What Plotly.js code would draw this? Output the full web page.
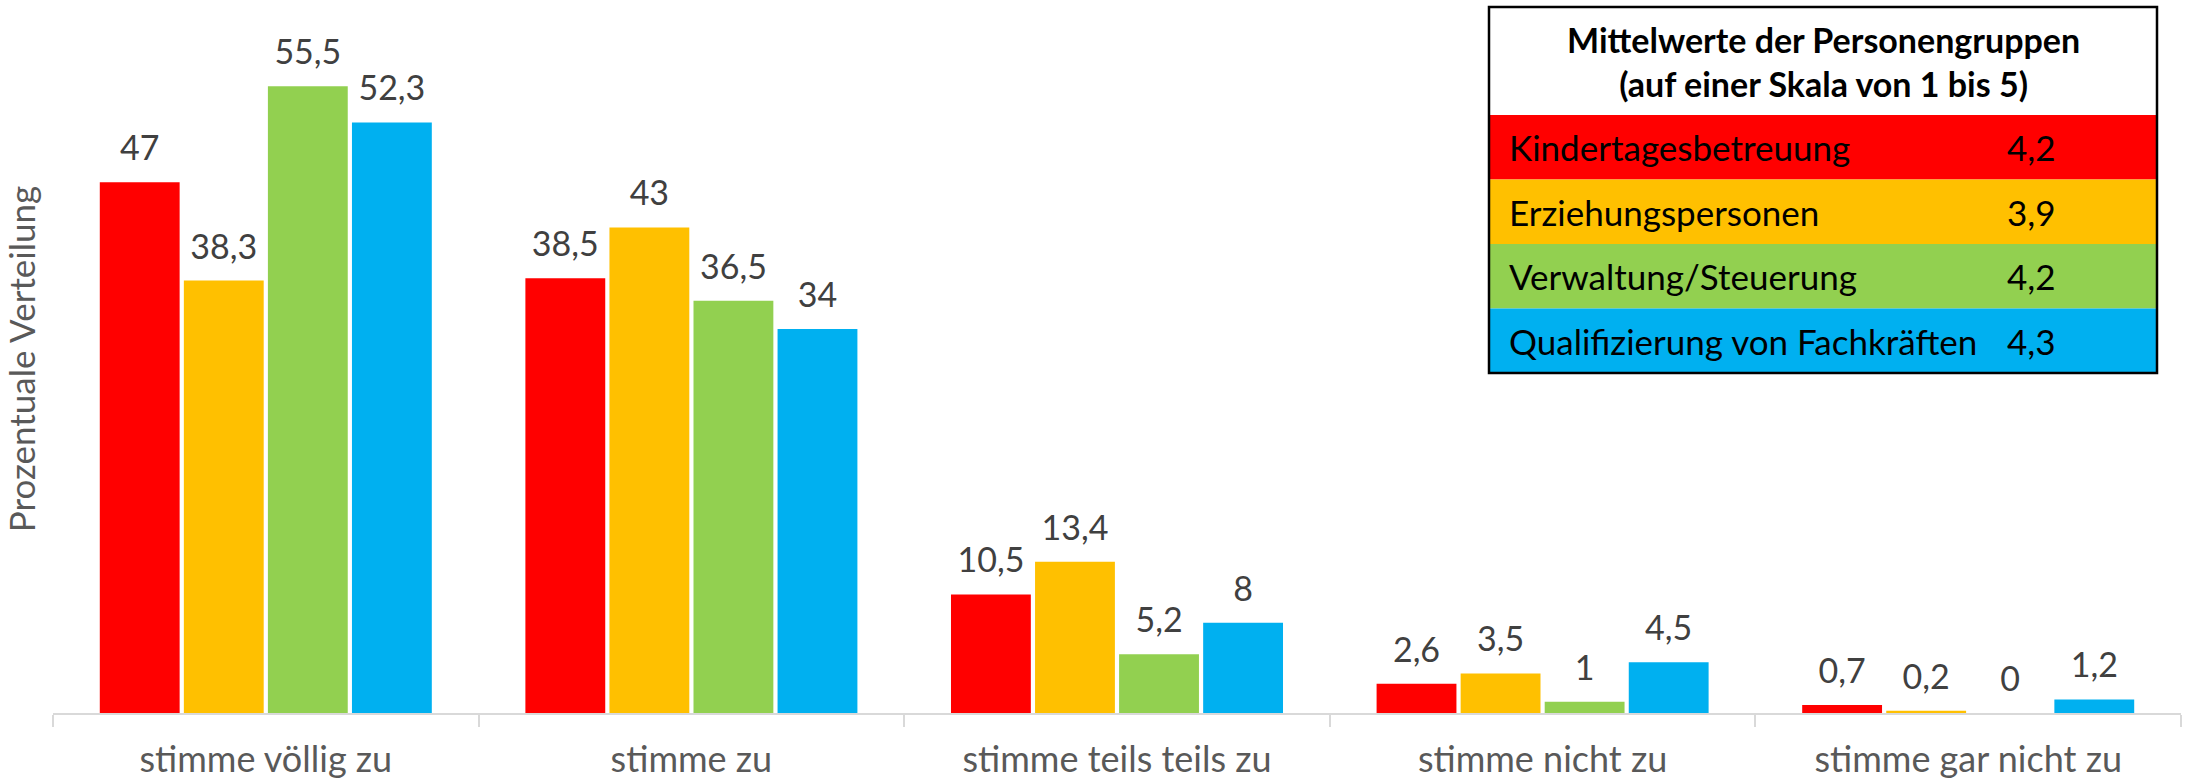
<!DOCTYPE html>
<html>
<head>
<meta charset="utf-8">
<script src="https://cdn.plot.ly/plotly-3.0.1.min.js"></script>
<style>html,body{margin:0;padding:0;background:#fff;}#chart{width:2196px;height:779px;}</style>
</head>
<body>
<div id="chart"></div>
<script>
// ---- data ----
const categories = ['stimme völlig zu', 'stimme zu', 'stimme teils teils zu', 'stimme nicht zu', 'stimme gar nicht zu'];
const groupNames = ['Kindertagesbetreuung', 'Erziehungspersonen', 'Verwaltung/Steuerung', 'Qualifizierung von Fachkräften'];
const kindertagesbetreuung = [47, 38.5, 10.5, 2.6, 0.7];
const erziehungspersonen = [38.3, 43, 13.4, 3.5, 0.2];
const verwaltungSteuerung = [55.5, 36.5, 5.2, 1, 0];
const qualifizierung = [52.3, 34, 8, 4.5, 1.2];
const mittelwerte = [4.2, 3.9, 4.2, 4.3];
const tableTitle = 'Mittelwerte der Personengruppen<br>(auf einer Skala von 1 bis 5)';
const yTitle = 'Prozentuale Verteilung';

// ---- style ----
const colors = ['#FF0000', '#FFC000', '#92D050', '#00B0F0'];
const FONT = 'Lato, "Open Sans", sans-serif';
const W = 2196, H = 779;
const M = {l: 53, r: 15, t: 5, b: 66};
const fmt = v => String(v).replace('.', ',');

const series = [kindertagesbetreuung, erziehungspersonen, verwaltungSteuerung, qualifizierung];
const traces = [];
series.forEach((vals, i) => {
  traces.push({
    type: 'bar', x: categories, y: vals, name: groupNames[i],
    marker: {color: colors[i]}, hoverinfo: 'skip', showlegend: false
  });
});
series.forEach((vals, i) => {
  traces.push({
    type: 'scatter', mode: 'markers+text', x: categories, y: vals,
    text: vals.map(fmt), textposition: 'top center',
    textfont: {family: FONT, size: 34, color: '#404040'},
    marker: {size: 20, color: 'rgba(0,0,0,0)'},
    hoverinfo: 'skip', showlegend: false, cliponaxis: false
  });
});

// table geometry in pixels -> paper
const pw = W - M.l - M.r, ph = H - M.t - M.b;
const px = X => (X - M.l) / pw;
const py = Y => (H - M.b - Y) / ph;
const boxL = 1489, boxR = 2157, boxT = 7, headB = 115, rowH = 64.5;

const shapes = [];
const annotations = [];
shapes.push({type: 'rect', xref: 'paper', yref: 'paper', x0: px(boxL), x1: px(boxR), y0: py(headB), y1: py(boxT), fillcolor: '#FFFFFF', line: {width: 0}});
groupNames.forEach((g, i) => {
  const t = headB + i * rowH, b = headB + (i + 1) * rowH;
  shapes.push({type: 'rect', xref: 'paper', yref: 'paper', x0: px(boxL), x1: px(boxR), y0: py(b), y1: py(t), fillcolor: colors[i], line: {width: 0}});
  annotations.push({xref: 'paper', yref: 'paper', x: px(1507), y: py((t + b) / 2), xanchor: 'left', yanchor: 'middle', text: g, showarrow: false, font: {family: FONT, size: 35, color: '#000000'}});
  annotations.push({xref: 'paper', yref: 'paper', x: px(2005), y: py((t + b) / 2), xanchor: 'left', yanchor: 'middle', text: fmt(mittelwerte[i]), showarrow: false, font: {family: FONT, size: 35, color: '#000000'}});
});
shapes.push({type: 'rect', xref: 'paper', yref: 'paper', x0: px(boxL), x1: px(boxR), y0: py(headB + 4 * rowH), y1: py(boxT), fillcolor: 'rgba(0,0,0,0)', line: {width: 2.5, color: '#000000'}});
annotations.push({xref: 'paper', yref: 'paper', x: px((boxL + boxR) / 2), y: py((boxT + headB) / 2), xanchor: 'center', yanchor: 'middle', text: '<b>' + tableTitle + '</b>', showarrow: false, align: 'center', font: {family: FONT, size: 34, color: '#000000'}});

const layout = {
  width: W, height: H, margin: M,
  paper_bgcolor: '#FFFFFF', plot_bgcolor: '#FFFFFF',
  barmode: 'group', bargap: 0.21, bargroupgap: 0.05,
  scattermode: 'group',
  showlegend: false,
  font: {family: FONT, color: '#595959'},
  xaxis: {
    type: 'category', showline: true, linecolor: '#D9D9D9', linewidth: 2,
    ticks: 'outside', tickson: 'boundaries', ticklen: 12, tickcolor: '#D9D9D9', tickwidth: 2,
    tickfont: {family: FONT, size: 36, color: '#595959'}, ticklabelstandoff: 14,
    showgrid: false, zeroline: false, fixedrange: true
  },
  yaxis: {
    range: [0, 62.7], showgrid: false, zeroline: false, showticklabels: false, showline: false, ticks: '',
    title: {text: yTitle, font: {family: FONT, size: 35, color: '#595959'}, standoff: 8},
    fixedrange: true
  },
  shapes: shapes,
  annotations: annotations
};

Plotly.newPlot('chart', traces, layout, {displayModeBar: false, staticPlot: true});
</script>
</body>
</html>
